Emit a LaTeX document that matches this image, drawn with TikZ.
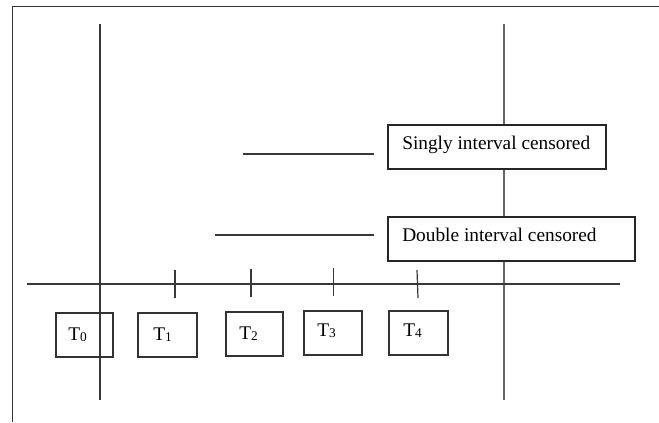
\documentclass[tikz,border=0pt]{standalone}
\usepackage{fontspec}
\setmainfont{Liberation Serif}
\tikzset{
  ln/.style={draw=black!78, line width=0.9pt},
  frameline/.style={draw=black!80, line width=0.8pt},
  tbox/.style={draw=black!80, line width=0.8pt, rectangle, inner sep=0pt},
  cbox/.style={draw=black!85, line width=0.8pt, fill=white, rectangle, inner sep=0pt},
  lbl/.style={anchor=base west, inner sep=0pt, font=\fontsize{14.5}{16}\selectfont},
}
\newcommand{\tsub}[1]{T{\fontsize{10}{11}\selectfont\raisebox{-1pt}{#1}}}
\begin{document}
\begin{tikzpicture}[x=0.75pt, y=-0.75pt]
\useasboundingbox (0,0) rectangle (659,422);
% frame
\coordinate (fa) at (12.5,422);
\coordinate (fb) at (12.5,6.5);
\coordinate (fc) at (659,6.5);
\draw[frameline] (fa) -- (fb) -- (fc);
% vertical lines
\coordinate (v1t) at (100,24); \coordinate (v1b) at (100,400);
\coordinate (v2t) at (504,24); \coordinate (v2b) at (504,400);
\draw[ln] (v1t) -- (v1b);
\draw[ln, draw=black!60] (v2t) -- (v2b);
% horizontal axis
\coordinate (ha) at (27,284); \coordinate (hb) at (620,284);
\draw[ln] (ha) -- (hb);
% ticks
\coordinate (k1a) at (175,270); \coordinate (k1b) at (175,298);
\coordinate (k2a) at (251,269); \coordinate (k2b) at (251,297);
\coordinate (k3a) at (333.5,268); \coordinate (k3b) at (333.5,296);
\coordinate (k4a) at (417,270); \coordinate (k4b) at (418,298);
\draw[ln] (k1a) -- (k1b);
\draw[ln] (k2a) -- (k2b);
\draw[ln] (k3a) -- (k3b);
\draw[ln] (k4a) -- (k4b);
% censoring boxes
\node[cbox, minimum width=218*0.75pt, minimum height=44*0.75pt] (sbox) at (497,147) {};
\node[cbox, minimum width=247*0.75pt, minimum height=44*0.75pt] (dbox) at (511.5,239) {};
\node[lbl] (stext) at (402,149) {Singly interval censored};
\node[lbl] (dtext) at (402,241) {Double interval censored};
% censoring lines
\coordinate (s1) at (243,154); \coordinate (s2) at (374,154);
\coordinate (d1) at (215,235); \coordinate (d2) at (374,235);
\draw[ln] (s1) -- (s2);
\draw[ln] (d1) -- (d2);
% T boxes
\node[tbox, minimum width=57*0.75pt, minimum height=44*0.75pt] (b0) at (84.5,335) {};
\node[tbox, minimum width=59*0.75pt, minimum height=44*0.75pt] (b1) at (167.5,335) {};
\node[tbox, minimum width=57*0.75pt, minimum height=44*0.75pt] (b2) at (254.5,334) {};
\node[tbox, minimum width=58*0.75pt, minimum height=44*0.75pt] (b3) at (333,333) {};
\node[tbox, minimum width=59*0.75pt, minimum height=44*0.75pt] (b4) at (418.5,333) {};
\node[lbl] (t0) at (68,340) {\tsub{0}};
\node[lbl] (t1) at (153,340) {\tsub{1}};
\node[lbl] (t2) at (239,339) {\tsub{2}};
\node[lbl] (t3) at (317,336) {\tsub{3}};
\node[lbl] (t4) at (403,336) {\tsub{4}};
\end{tikzpicture}
\end{document}
